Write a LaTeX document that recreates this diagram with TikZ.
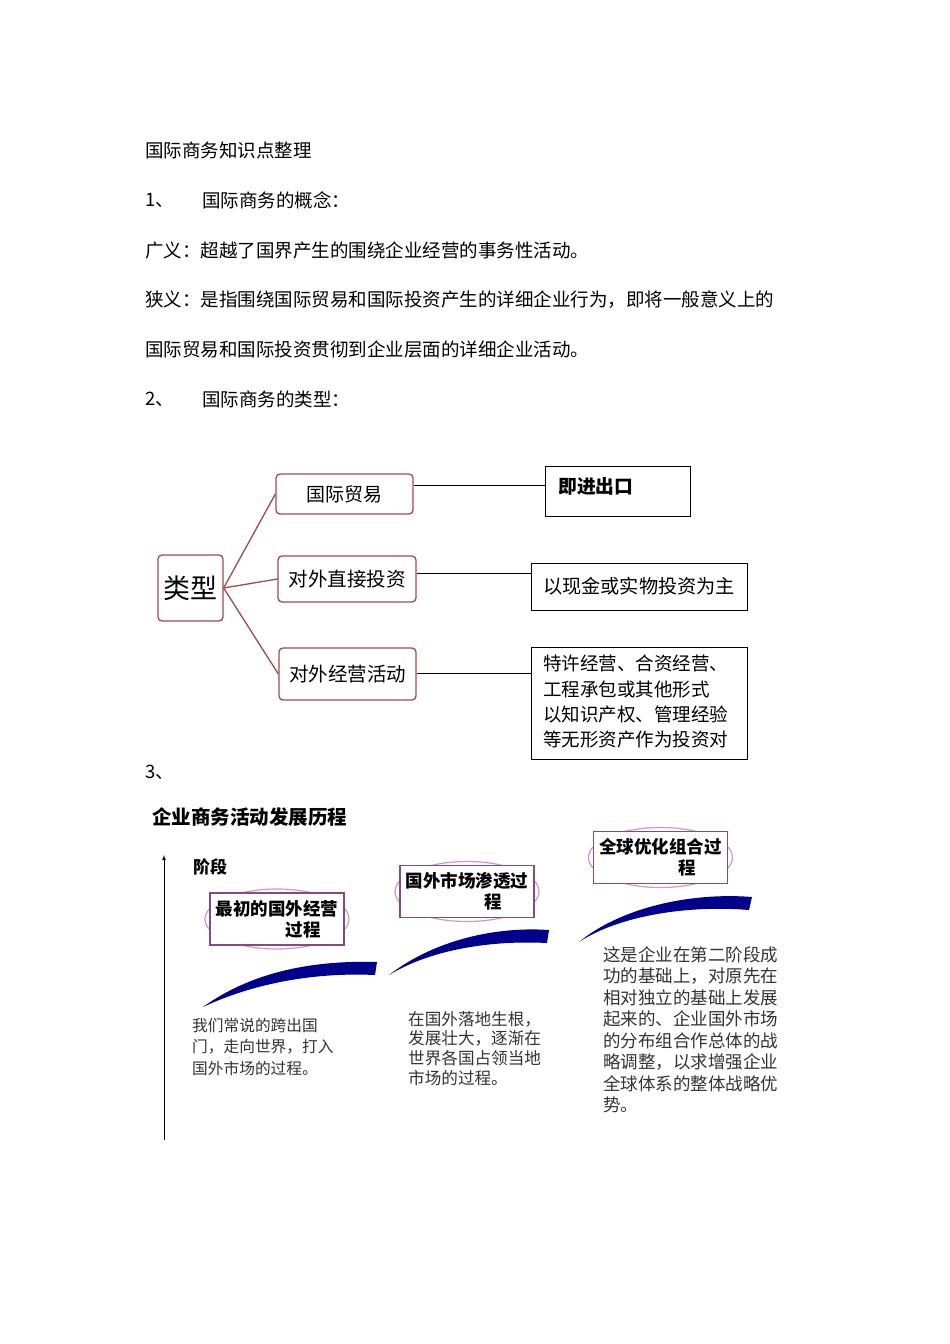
\documentclass[tikz,border=0pt]{standalone}
\usepackage{fontspec}
\setmainfont{Noto Sans CJK SC}
\newfontfamily\cjk{Noto Sans CJK SC}
\begin{document}
\begin{tikzpicture}[x=1pt,y=-1pt,
  body/.style={anchor=west,inner sep=0pt,font=\fontsize{18.5}{18.5}\selectfont},
  tbox/.style={draw=red!45!black!70,line width=1.3pt,rounded corners=4pt,fill=white,inner sep=0pt},
  bbox/.style={draw=black,line width=0.8pt,inner sep=0pt},
  tline/.style={draw=red!45!black!70,line width=1.3pt},
  stage/.style={draw=violet!60!black!70,line width=1.5pt,fill=white,inner sep=0pt,align=center,font=\bfseries\fontsize{17.5}{21}\selectfont},
  para/.style={anchor=north west,inner sep=0pt,align=left,font=\fontsize{17.5}{21.5}\selectfont,text=black!80},
  swoosh/.style={fill=blue!55!black,draw=none}]
\useasboundingbox[fill=white] (0,0) rectangle (950,1344);
\node[body] (t0) at (145,150) {国际商务知识点整理};
\node[body] (n1) at (145,200) {1、};
\node[body] (h1) at (202,200) {国际商务的概念：};
\node[body] (l1) at (145,250) {广义：超越了国界产生的围绕企业经营的事务性活动。};
\node[body] (l2) at (145,300) {狭义：是指围绕国际贸易和国际投资产生的详细企业行为，即将一般意义上的};
\node[body] (l3) at (145,349) {国际贸易和国际投资贯彻到企业层面的详细企业活动。};
\node[body] (n2) at (145,399) {2、};
\node[body] (h2) at (202,399) {国际商务的类型：};
% tree
\node[tbox,minimum width=65pt,minimum height=66pt,font=\fontsize{27}{27}\selectfont] (lx) at (190.5,588) {类型};
\node[tbox,minimum width=137pt,minimum height=40pt,font=\fontsize{19}{19}\selectfont] (a) at (344.5,494) {国际贸易};
\node[tbox,minimum width=138pt,minimum height=46pt,font=\fontsize{19.5}{19.5}\selectfont] (b) at (347,579) {对外直接投资};
\node[tbox,minimum width=137pt,minimum height=52pt,font=\fontsize{19.5}{19.5}\selectfont] (c) at (347.5,674) {对外经营活动};
\draw[tline] (lx.east) -- (a.west);
\draw[tline] (lx.east) -- (b.west);
\draw[tline] (lx.east) -- (c.west);
\node[bbox,minimum width=145pt,minimum height=50pt] (ra) at (617.5,491) {};
\node[anchor=west,inner sep=0pt,font=\bfseries\fontsize{18.8}{18.8}\selectfont] (rat) at (558,486) {即进出口};
\node[bbox,minimum width=216pt,minimum height=47pt,font=\fontsize{19.2}{19.2}\selectfont] (rb) at (639,586.5) {以现金或实物投资为主};
\node[bbox,minimum width=216pt,minimum height=112pt] (rc) at (639,703) {};
\node[anchor=north west,inner sep=0pt,align=left,font=\fontsize{18.5}{25.3}\selectfont] (rct) at (543,655) {特许经营、合资经营、\\工程承包或其他形式\\以知识产权、管理经验\\等无形资产作为投资对};
\draw[line width=0.8pt] (a.east |- 0,485) -- (ra.west |- 0,485);
\draw[line width=0.8pt] (b.east |- 0,573) -- (rb.west |- 0,573);
\draw[line width=0.8pt] (c.east |- 0,673) -- (rc.west |- 0,673);
\node[body] (n3) at (145,772) {3、};
\node[body,font=\bfseries\fontsize{19.5}{19.5}\selectfont] (t3) at (152,817) {企业商务活动发展历程};
% axis
\coordinate (ax0) at (164,1140);
\coordinate (ax1) at (164,855);
\draw[line width=0.8pt,-latex] (ax0) -- (ax1);
\node[body,font=\bfseries\fontsize{17}{17}\selectfont] (jd) at (193,867) {阶段};
% stage boxes with lens backs
\foreach \cx/\cy/\nm/\txt in {277/919/s1/{最初的国外经营\\\hspace*{3em}过程},467/891.5/s2/{国外市场渗透过\\\hspace*{3em}程},660.5/857.5/s3/{全球优化组合过\\\hspace*{3em}程}}{
  \draw[violet!40,line width=1.2pt,fill=white] (\cx,\cy) ellipse (72pt and 30pt);
  \node[stage,minimum width=134pt,minimum height=52pt] (\nm) at (\cx,\cy) {\txt};
}
% swooshes
\fill[swoosh] (203,1007) .. controls (250,973) and (310,960) .. (377,962) -- (375,975) .. controls (310,972) and (250,985) .. (203,1007) -- cycle;
\fill[swoosh] (389,975) .. controls (430,943) and (490,926) .. (549,930) -- (547,943) .. controls (490,940) and (430,950) .. (389,975) -- cycle;
\fill[swoosh] (579,942) .. controls (620,908) and (690,892) .. (752,897) -- (749,910) .. controls (690,905) and (620,915) .. (579,942) -- cycle;
\node[para,font=\fontsize{15.7}{21.5}\selectfont] (p1) at (192,1018) {我们常说的跨出国\\门，走向世界，打入\\国外市场的过程。};
\node[para,font=\fontsize{16.6}{19.7}\selectfont] (p2) at (408,1011) {在国外落地生根，\\发展壮大，逐渐在\\世界各国占领当地\\市场的过程。};
\node[para] (p3) at (603,946) {这是企业在第二阶段成\\功的基础上，对原先在\\相对独立的基础上发展\\起来的、企业国外市场\\的分布组合作总体的战\\略调整，以求增强企业\\全球体系的整体战略优\\势。};
\end{tikzpicture}
\end{document}
